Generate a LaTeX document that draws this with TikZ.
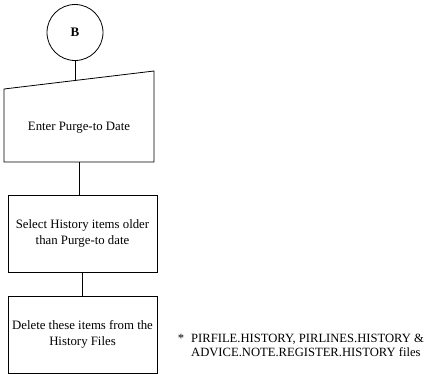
\documentclass[tikz,border=0pt]{standalone}
\usepackage{fontspec}
\setmainfont{Liberation Serif}
\usetikzlibrary{calc}
\begin{document}
\begin{tikzpicture}[x=1pt,y=-1pt,
  flowline/.style={draw=black,line width=0.8pt},
  procbox/.style={draw=black,line width=0.8pt,minimum width=149pt,minimum height=77pt,
    align=center,inner sep=0pt,font=\fontsize{12.8}{16}\selectfont},
  label/.style={font=\fontsize{12.8}{16}\selectfont,inner sep=0pt},
  notetext/.style={font=\fontsize{12.6}{14.5}\selectfont,inner sep=0pt,anchor=base west}]
  \useasboundingbox (0,0) rectangle (429,375);
  % connector B
  \node[draw=black,line width=0.8pt,circle,minimum size=56pt,inner sep=0pt,
        font=\bfseries\fontsize{13}{15}\selectfont] (conn) at (75,32.5) {B};
  % manual input: enter purge-to date
  \coordinate (mtl) at (4,89);
  \coordinate (mtr) at (154,71);
  \coordinate (mbr) at (154,162);
  \coordinate (mbl) at (4,162);
  \draw[flowline] (mtl) -- (mtr) -- (mbr) -- (mbl) -- cycle;
  \node[label] (enter) at (79,128) {Enter Purge-to Date};
  \coordinate (mtop) at ($(mtl)!0.473!(mtr)$);
  \coordinate (mbot) at ($(mbl)!0.5!(mbr)$);
  % process boxes
  \node[procbox] (select) at (82.5,233.5) {Select History items older\\than Purge-to date};
  \node[procbox] (delete) at (82.5,334.5) {Delete these items from the\\History Files};
  % footnote on the history files
  \node[notetext] (note1) at (191,342) {\llap{*\hspace{7pt}}PIRFILE.HISTORY, PIRLINES.HISTORY \&};
  \node[notetext] (note2) at (191,356.5) {ADVICE.NOTE.REGISTER.HISTORY files};
  % connectors
  \draw[flowline] (conn.south) -- (conn.south |- mtop);
  \draw[flowline] (mbot) -- (mbot |- select.north);
  \draw[flowline] (select.south) -- (delete.north);
\end{tikzpicture}
\end{document}
